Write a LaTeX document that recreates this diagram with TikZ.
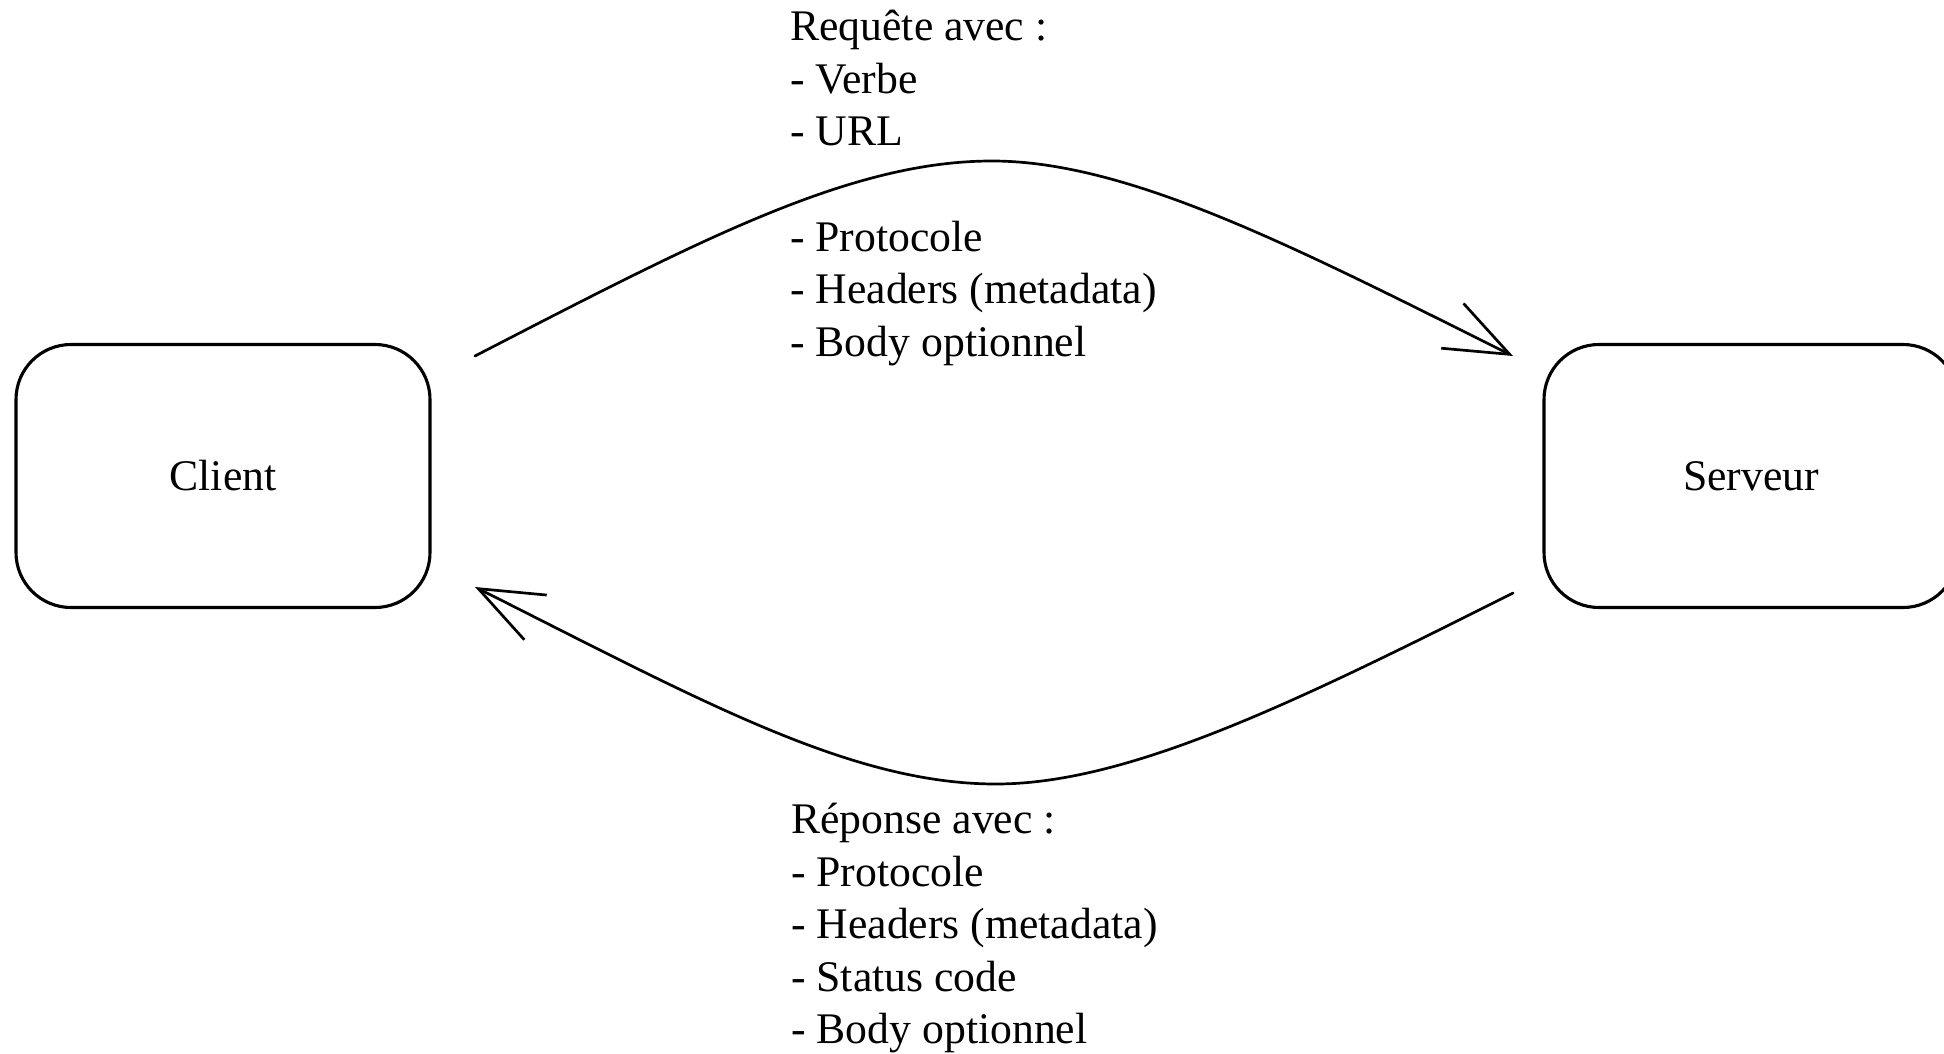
\documentclass[tikz,border=0pt]{standalone}
\usepackage{fontspec}
\setmainfont{Liberation Serif}
\usetikzlibrary{arrows.meta}
\begin{document}
\begin{tikzpicture}[x=1pt,y=-1pt,
  box/.style={draw, line width=3.1pt, rounded corners=55pt, minimum width=414pt, minimum height=263pt, inner sep=0pt, font=\fontsize{43.7}{52.6}\selectfont},
  lbl/.style={align=left, anchor=north west, inner sep=0pt, font=\fontsize{43.7}{52.6}\selectfont},
  flow/.style={line width=2.7pt, line cap=round, -{Straight Barb[length=64pt,width=50pt,line width=2.7pt]}}]
\clip (0,0) rectangle (1944,1054);
\fill[white] (0,0) rectangle (1944,1054);

\node[box] (client) at (223,476) {Client};
\node[box] (serveur) at (1751,476) {Serveur};

\coordinate (reqS) at (475,356);
\coordinate (reqT) at (992,161);
\coordinate (reqE) at (1513,356);
\draw[flow] (reqS) .. controls (700,240) and (850,161) .. (reqT) .. controls (1130,161) and (1300,250) .. (reqE);

\coordinate (repS) at (1513,593);
\coordinate (repB) at (996,784);
\coordinate (repE) at (475,587);
\draw[flow] (repS) .. controls (1300,700) and (1130,784) .. (repB) .. controls (850,784) and (700,700) .. (repE);

\node[lbl] (req) at (790,10) {Requête avec :\\- Verbe\\- URL\\~\\- Protocole\\- Headers (metadata)\\- Body optionnel};
\node[lbl] (rep) at (791,803) {Réponse avec :\\- Protocole\\- Headers (metadata)\\- Status code\\- Body optionnel};
\end{tikzpicture}
\end{document}
